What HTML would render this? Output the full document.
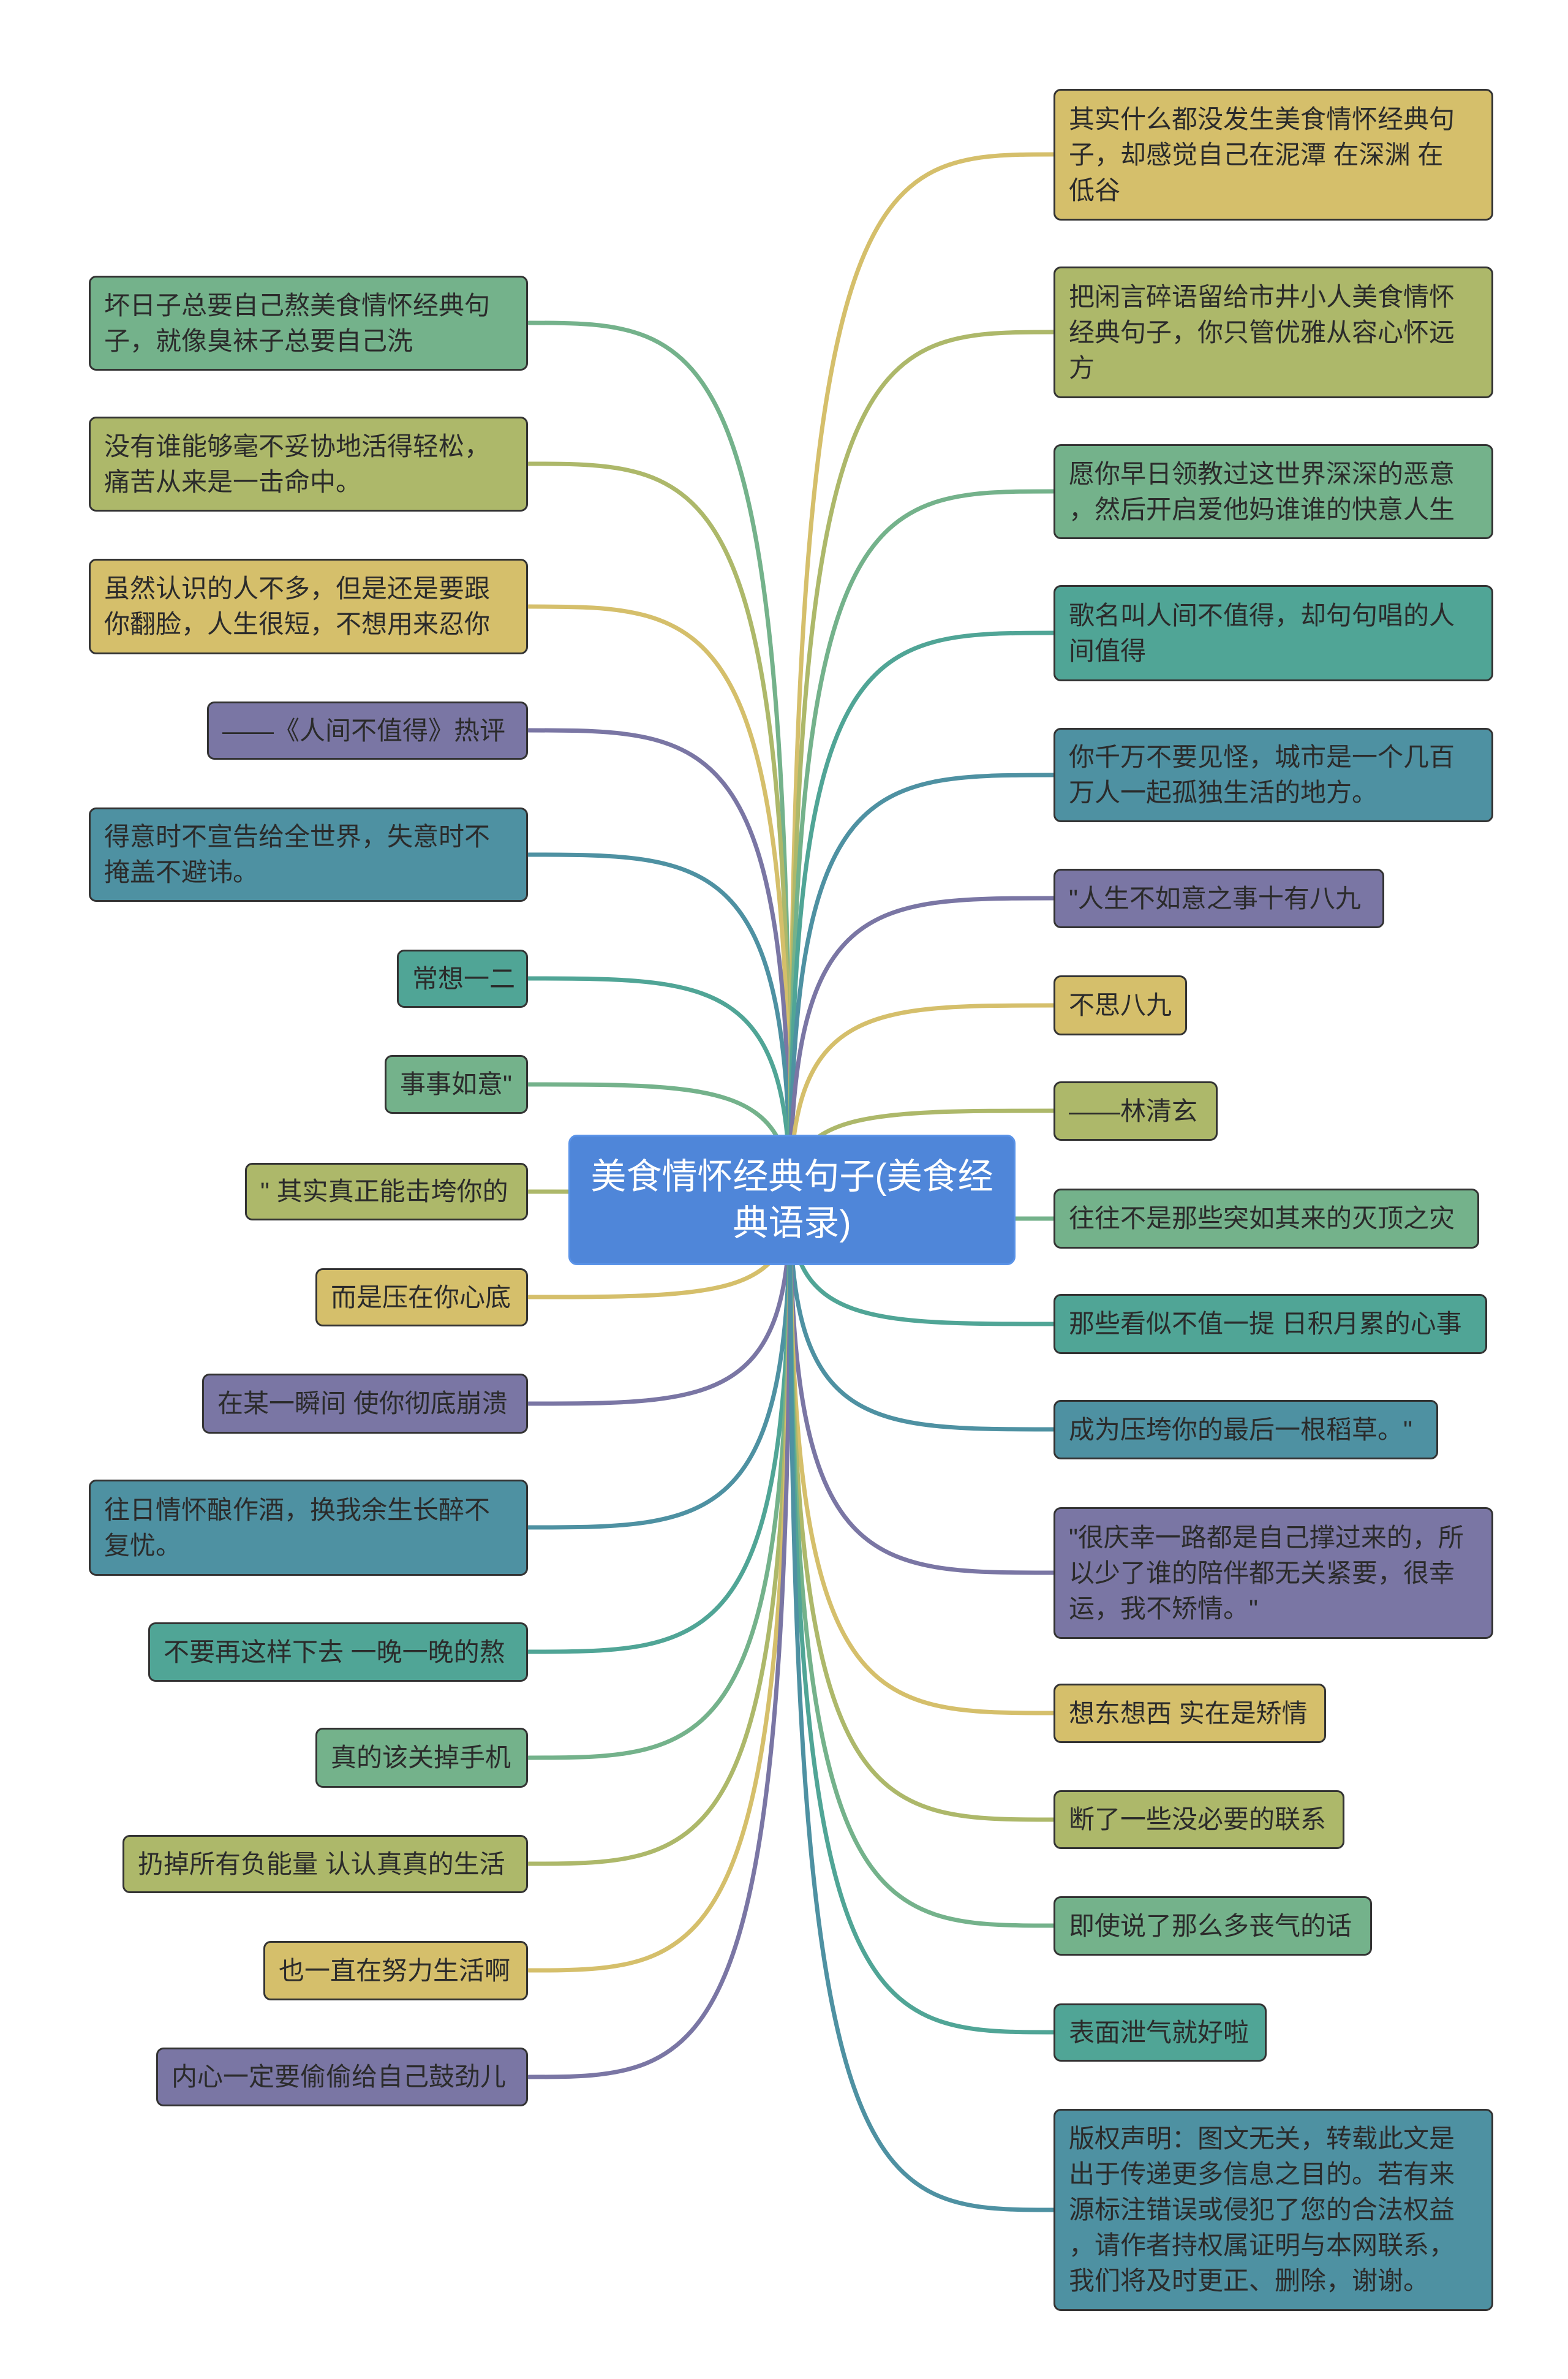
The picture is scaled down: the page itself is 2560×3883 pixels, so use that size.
<!DOCTYPE html>
<html><head><meta charset="utf-8">
<style>
body{margin:0;width:2560px;height:3883px;background:#fff;position:relative;overflow:hidden;font-family:"Liberation Sans","Noto Sans CJK SC",sans-serif;}
.b{position:absolute;box-sizing:border-box;border:3px solid #333;border-radius:12px;display:flex;align-items:center;padding:0 22px;font-size:42px;line-height:58px;color:#2b2b2b;white-space:nowrap;}
.G{background:#74b28b}.O{background:#adb86a}.Y{background:#d5bf6b}.P{background:#7a76a4}.B{background:#4e91a2}.T{background:#50a596}
svg{position:absolute;left:0;top:0}
.c{position:absolute;left:928px;top:1852px;width:730px;height:213px;background:#4f86d9;border:3px solid #5a93e8;border-radius:14px;box-sizing:border-box;color:#fff;font-size:58px;line-height:76px;text-align:center;display:flex;align-items:center;justify-content:center;}
</style></head><body>
<svg width="2560" height="3883" fill="none" stroke-width="7">
<g>
<path stroke="#74b28b" d="M1290 1960 C1290 527 1162 527 862 527"/>
<path stroke="#adb86a" d="M1290 1960 C1290 757 1162 757 862 757"/>
<path stroke="#d5bf6b" d="M1290 1960 C1290 990 1162 990 862 990"/>
<path stroke="#7a76a4" d="M1290 1960 C1290 1192 1162 1192 862 1192"/>
<path stroke="#4e91a2" d="M1290 1960 C1290 1395 1162 1395 862 1395"/>
<path stroke="#50a596" d="M1290 1960 C1290 1597 1162 1597 862 1597"/>
<path stroke="#74b28b" d="M1290 1960 C1290 1770 1162 1770 862 1770"/>
<path stroke="#adb86a" d="M1290 1960 C1290 1945 1162 1945 862 1945"/>
<path stroke="#d5bf6b" d="M1290 1960 C1290 2117 1162 2117 862 2117"/>
<path stroke="#7a76a4" d="M1290 1960 C1290 2291 1162 2291 862 2291"/>
<path stroke="#4e91a2" d="M1290 1960 C1290 2493 1162 2493 862 2493"/>
<path stroke="#50a596" d="M1290 1960 C1290 2696 1162 2696 862 2696"/>
<path stroke="#74b28b" d="M1290 1960 C1290 2869 1162 2869 862 2869"/>
<path stroke="#adb86a" d="M1290 1960 C1290 3042 1162 3042 862 3042"/>
<path stroke="#d5bf6b" d="M1290 1960 C1290 3216 1162 3216 862 3216"/>
<path stroke="#7a76a4" d="M1290 1960 C1290 3390 1162 3390 862 3390"/>
<path stroke="#d5bf6b" d="M1290 1960 C1290 252 1419 252 1720 252"/>
<path stroke="#adb86a" d="M1290 1960 C1290 542 1419 542 1720 542"/>
<path stroke="#74b28b" d="M1290 1960 C1290 802 1419 802 1720 802"/>
<path stroke="#50a596" d="M1290 1960 C1290 1033 1419 1033 1720 1033"/>
<path stroke="#4e91a2" d="M1290 1960 C1290 1265 1419 1265 1720 1265"/>
<path stroke="#7a76a4" d="M1290 1960 C1290 1466 1419 1466 1720 1466"/>
<path stroke="#d5bf6b" d="M1290 1960 C1290 1641 1419 1641 1720 1641"/>
<path stroke="#adb86a" d="M1290 1960 C1290 1813 1419 1813 1720 1813"/>
<path stroke="#74b28b" d="M1290 1960 C1290 1989 1419 1989 1720 1989"/>
<path stroke="#50a596" d="M1290 1960 C1290 2161 1419 2161 1720 2161"/>
<path stroke="#4e91a2" d="M1290 1960 C1290 2333 1419 2333 1720 2333"/>
<path stroke="#7a76a4" d="M1290 1960 C1290 2567 1419 2567 1720 2567"/>
<path stroke="#d5bf6b" d="M1290 1960 C1290 2796 1419 2796 1720 2796"/>
<path stroke="#adb86a" d="M1290 1960 C1290 2970 1419 2970 1720 2970"/>
<path stroke="#74b28b" d="M1290 1960 C1290 3143 1419 3143 1720 3143"/>
<path stroke="#50a596" d="M1290 1960 C1290 3317 1419 3317 1720 3317"/>
<path stroke="#4e91a2" d="M1290 1960 C1290 3607 1419 3607 1720 3607"/>
</g></svg>

<div class="c">美食情怀经典句子(美食经<br>典语录)</div>

<div class="b G" style="left:145px;top:450px;width:717px;height:155px">坏日子总要自己熬美食情怀经典句<br>子，就像臭袜子总要自己洗</div>
<div class="b O" style="left:145px;top:680px;width:717px;height:155px">没有谁能够毫不妥协地活得轻松，<br>痛苦从来是一击命中。</div>
<div class="b Y" style="left:145px;top:912px;width:717px;height:156px">虽然认识的人不多，但是还是要跟<br>你翻脸，人生很短，不想用来忍你</div>
<div class="b P" style="left:338px;top:1145px;width:524px;height:95px">——《人间不值得》热评</div>
<div class="b B" style="left:145px;top:1318px;width:717px;height:154px">得意时不宣告给全世界，失意时不<br>掩盖不避讳。</div>
<div class="b T" style="left:648px;top:1550px;width:214px;height:95px">常想一二</div>
<div class="b G" style="left:628px;top:1722px;width:234px;height:96px">事事如意"</div>
<div class="b O" style="left:400px;top:1898px;width:462px;height:94px">" 其实真正能击垮你的</div>
<div class="b Y" style="left:515px;top:2070px;width:347px;height:95px">而是压在你心底</div>
<div class="b P" style="left:330px;top:2242px;width:532px;height:98px">在某一瞬间 使你彻底崩溃</div>
<div class="b B" style="left:145px;top:2415px;width:717px;height:157px">往日情怀酿作酒，换我余生长醉不<br>复忧。</div>
<div class="b T" style="left:242px;top:2648px;width:620px;height:97px">不要再这样下去 一晚一晚的熬</div>
<div class="b G" style="left:515px;top:2820px;width:347px;height:98px">真的该关掉手机</div>
<div class="b O" style="left:200px;top:2995px;width:662px;height:95px">扔掉所有负能量 认认真真的生活</div>
<div class="b Y" style="left:430px;top:3168px;width:432px;height:97px">也一直在努力生活啊</div>
<div class="b P" style="left:255px;top:3342px;width:607px;height:96px">内心一定要偷偷给自己鼓劲儿</div>

<div class="b Y" style="left:1720px;top:145px;width:718px;height:215px">其实什么都没发生美食情怀经典句<br>子，却感觉自己在泥潭 在深渊 在<br>低谷</div>
<div class="b O" style="left:1720px;top:435px;width:718px;height:215px">把闲言碎语留给市井小人美食情怀<br>经典句子，你只管优雅从容心怀远<br>方</div>
<div class="b G" style="left:1720px;top:725px;width:718px;height:155px">愿你早日领教过这世界深深的恶意<br>，然后开启爱他妈谁谁的快意人生</div>
<div class="b T" style="left:1720px;top:955px;width:718px;height:157px">歌名叫人间不值得，却句句唱的人<br>间值得</div>
<div class="b B" style="left:1720px;top:1188px;width:718px;height:154px">你千万不要见怪，城市是一个几百<br>万人一起孤独生活的地方。</div>
<div class="b P" style="left:1720px;top:1418px;width:540px;height:97px">"人生不如意之事十有八九</div>
<div class="b Y" style="left:1720px;top:1592px;width:218px;height:98px">不思八九</div>
<div class="b O" style="left:1720px;top:1765px;width:268px;height:97px">——林清玄</div>
<div class="b G" style="left:1720px;top:1940px;width:695px;height:98px">往往不是那些突如其来的灭顶之灾</div>
<div class="b T" style="left:1720px;top:2112px;width:708px;height:98px">那些看似不值一提 日积月累的心事</div>
<div class="b B" style="left:1720px;top:2285px;width:628px;height:97px">成为压垮你的最后一根稻草。"</div>
<div class="b P" style="left:1720px;top:2460px;width:718px;height:215px">"很庆幸一路都是自己撑过来的，所<br>以少了谁的陪伴都无关紧要，很幸<br>运，我不矫情。"</div>
<div class="b Y" style="left:1720px;top:2748px;width:445px;height:97px">想东想西 实在是矫情</div>
<div class="b O" style="left:1720px;top:2922px;width:475px;height:96px">断了一些没必要的联系</div>
<div class="b G" style="left:1720px;top:3095px;width:520px;height:97px">即使说了那么多丧气的话</div>
<div class="b T" style="left:1720px;top:3270px;width:348px;height:95px">表面泄气就好啦</div>
<div class="b B" style="left:1720px;top:3442px;width:718px;height:330px">版权声明：图文无关，转载此文是<br>出于传递更多信息之目的。若有来<br>源标注错误或侵犯了您的合法权益<br>，请作者持权属证明与本网联系，<br>我们将及时更正、删除，谢谢。</div>
</body></html>
